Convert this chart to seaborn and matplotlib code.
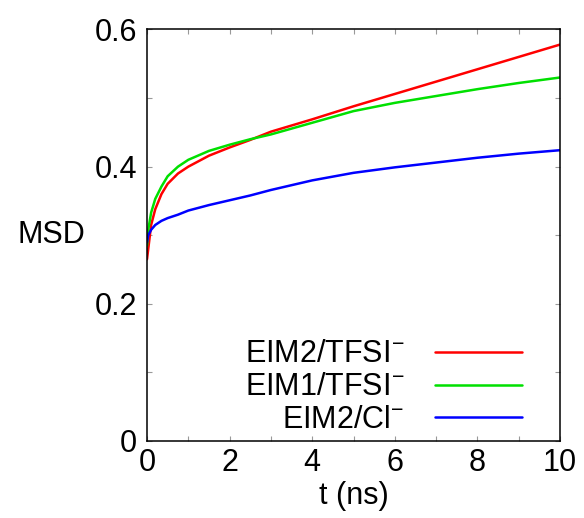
import matplotlib
matplotlib.use("Agg")
import matplotlib.pyplot as plt
import seaborn as sns
import pandas as pd
from matplotlib.ticker import MultipleLocator

# ---- data ----
t_ns = [0, 0.03, 0.1, 0.2, 0.35, 0.5, 0.75, 1, 1.5, 2, 2.5, 3, 4, 5, 6, 7, 8, 9, 10]
msd_eim2_tfsi = [0.265, 0.280, 0.315, 0.338, 0.360, 0.375, 0.390, 0.400, 0.416, 0.428,
                 0.439, 0.451, 0.469, 0.488, 0.506, 0.524, 0.542, 0.560, 0.578]
msd_eim1_tfsi = [0.285, 0.308, 0.333, 0.353, 0.371, 0.386, 0.400, 0.410, 0.423, 0.432,
                 0.440, 0.447, 0.464, 0.481, 0.493, 0.503, 0.513, 0.522, 0.530]
msd_eim2_cl = [0.290, 0.300, 0.308, 0.315, 0.321, 0.325, 0.330, 0.336, 0.344, 0.351,
               0.358, 0.366, 0.380, 0.391, 0.399, 0.406, 0.413, 0.419, 0.424]
series_labels = [r"EIM2/TFSI$^{-}$", r"EIM1/TFSI$^{-}$", r"EIM2/Cl$^{-}$"]
x_ticks = [0, 2, 4, 6, 8, 10]
y_ticks = [0, 0.2, 0.4, 0.6]
y_tick_labels = ["0", "0.2", "0.4", "0.6"]

df = pd.concat([
    pd.DataFrame({"t": t_ns, "msd": v, "system": lab})
    for v, lab in zip([msd_eim2_tfsi, msd_eim1_tfsi, msd_eim2_cl], series_labels)
])

sns.set_style("white")
plt.rcParams["font.family"] = ["Liberation Sans", "DejaVu Sans"]
plt.rcParams["mathtext.fontset"] = "custom"
plt.rcParams["mathtext.rm"] = "Liberation Sans"
plt.rcParams["mathtext.it"] = "Liberation Sans:italic"
plt.rcParams["mathtext.default"] = "regular"
plt.rcParams["text.color"] = "black"
plt.rcParams["axes.labelcolor"] = "black"
plt.rcParams["xtick.labelcolor"] = "black"
plt.rcParams["ytick.labelcolor"] = "black"

fig = plt.figure(figsize=(5.84, 5.18), dpi=100)
ax = fig.add_axes([147/584, 1-441/518, 413/584, (441-29.5)/518])

palette = {series_labels[0]: "#ff0000", series_labels[1]: "#00e000", series_labels[2]: "#0000ff"}
sns.lineplot(data=df, x="t", y="msd", hue="system", palette=palette,
             hue_order=series_labels, linewidth=1.8, ax=ax, sort=False)

ax.set_xlim(0, 10)
ax.set_ylim(0, 0.6)
ax.set_xticks(x_ticks)
ax.set_xticklabels([str(v) for v in x_ticks])
ax.set_yticks(y_ticks)
ax.set_yticklabels(y_tick_labels)
ax.xaxis.set_minor_locator(MultipleLocator(1))
ax.yaxis.set_minor_locator(MultipleLocator(0.1))
ax.tick_params(which="both", direction="in", top=True, right=True, bottom=True, left=True,
               length=3.8, width=0.8, color="#999999", labelsize=22, labelcolor="black")
ax.tick_params(axis="x", which="major", pad=5)
ax.tick_params(axis="y", which="major", pad=7)
for s in ax.spines.values():
    s.set_color("black")
    s.set_linewidth(1.1)

ax.set_xlabel("t (ns)", fontsize=22, labelpad=2, color="black")
ax.set_ylabel("MSD", fontsize=22, rotation=0, ha="center", va="center", color="black")
ax.yaxis.set_label_coords(-0.232, 0.5)

leg = ax.legend(loc="lower right", bbox_to_anchor=(1-38/413, 6/411.5),
                frameon=False, markerfirst=False, fontsize=22,
                handlelength=2.85, handletextpad=1.0, labelspacing=0.09,
                borderpad=0, borderaxespad=0)
for txt in leg.get_texts():
    txt.set_color("black")

fig.savefig("out.png", dpi=100)
